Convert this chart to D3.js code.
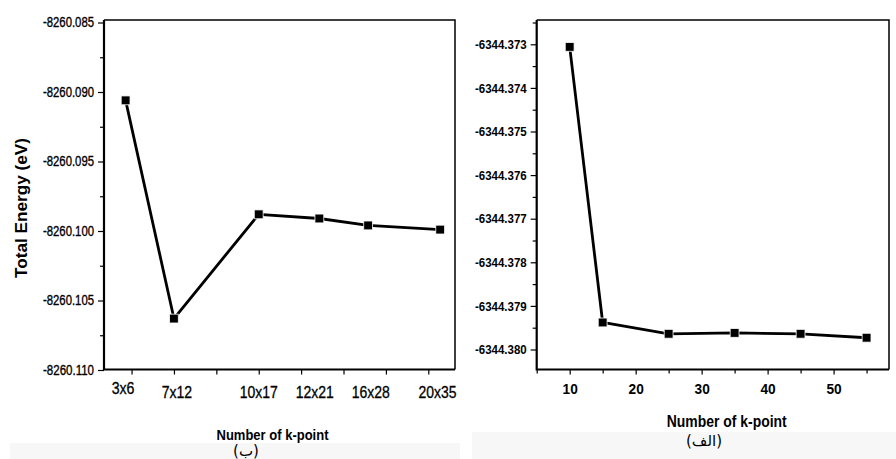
<!DOCTYPE html>
<html>
<head>
<meta charset="utf-8">
<script src="https://cdn.jsdelivr.net/npm/d3@7"></script>
<style>
  html, body { margin: 0; padding: 0; background: #fff; }
  svg { display: block; }
  text { font-family: "Liberation Sans", Arial, sans-serif; fill: #000; }
</style>
</head>
<body>
<svg id="chart" width="896" height="459"></svg>
<script>
// ---- Data: left panel (ب) ----
const leftCategories = ["3x6", "7x12", "10x17", "12x21", "16x28", "20x35"];
const leftPositions = [0.86, 2, 4, 5.43, 6.58, 8.28];
const leftLabelPositions = [0.8, 2.07, 4.0, 5.32, 6.64, 8.22];
const leftEnergy = [-8260.0906, -8260.1063, -8260.0988, -8260.0991, -8260.0996, -8260.0999];
const leftYTicks = [-8260.085, -8260.090, -8260.095, -8260.100, -8260.105, -8260.110];
const leftYMinor = [-8260.0875, -8260.0925, -8260.0975, -8260.1025, -8260.1075];
const leftXTicks = [1, 2, 3, 4, 5, 6, 7, 8];

// ---- Data: right panel (الف) ----
const rightK = [10, 15, 25, 35, 45, 55];
const rightEnergy = [-6344.37306, -6344.37938, -6344.37964, -6344.37962, -6344.37964, -6344.37973];
const rightYTicks = [-6344.373, -6344.374, -6344.375, -6344.376, -6344.377, -6344.378, -6344.379, -6344.380];
const rightYMinor = [-6344.3725, -6344.3735, -6344.3745, -6344.3755, -6344.3765, -6344.3775, -6344.3785, -6344.3795];
const rightXTicks = [10, 20, 30, 40, 50];
const rightXMinor = [5, 15, 25, 35, 45, 55];

// ---- Texts ----
const yTitle = "Total Energy (eV)";
const xTitle = "Number of k-point";
const leftTag = "(ب)";
const rightTag = "(الف)";

const svg = d3.select("#chart");

// light grey background strips (scanned composite)
svg.append("rect").attr("x", 10).attr("y", 443).attr("width", 450).attr("height", 16).attr("fill", "#f7f7f7");
svg.append("rect").attr("x", 472).attr("y", 432).attr("width", 424).attr("height", 27).attr("fill", "#f7f7f7");

// approximate condensed glyph width per character for textLength
function condensed(sel, perChar) {
  sel.each(function () {
    const t = d3.select(this);
    const s = t.text();
    if (s) t.attr("textLength", s.length * perChar).attr("lengthAdjust", "spacingAndGlyphs");
  });
}

function panel(cfg) {
  const g = svg.append("g");
  const x = d3.scaleLinear().domain(cfg.xDomain).range([cfg.left, cfg.right]);
  const y = d3.scaleLinear().domain(cfg.yDomain).range(cfg.yRange);

  // box (top and right)
  g.append("path")
    .attr("d", `M${cfg.left},${cfg.top}H${cfg.right}V${cfg.bottom}`)
    .attr("fill", "none").attr("stroke", "#000").attr("stroke-width", 1.5);

  // Y axis
  const yAxis = g.append("g").attr("transform", `translate(${cfg.left},0)`)
    .call(d3.axisLeft(y).tickValues(cfg.yTicks).tickSize(6).tickPadding(4)
      .tickFormat(d => d.toFixed(3)));
  yAxis.select(".domain").remove();
  yAxis.selectAll(".tick line").attr("stroke-width", 1.2);
  yAxis.selectAll(".tick text")
    .style("font-family", "'Liberation Sans', Arial, sans-serif")
    .style("font-size", cfg.yTickSize + "px")
    .style("font-weight", cfg.yTickWeight)
    .attr("stroke", "#000").attr("stroke-width", cfg.yTickStroke)
    .call(condensed, cfg.yTickChar);
  const yMinor = g.append("g").attr("transform", `translate(${cfg.left},0)`)
    .call(d3.axisLeft(y).tickValues(cfg.yMinor).tickSize(4).tickFormat(""));
  yMinor.select(".domain").remove();
  yMinor.selectAll(".tick line").attr("stroke-width", 1.2);

  // X axis
  const xAxis = g.append("g").attr("transform", `translate(0,${cfg.bottom})`)
    .call(d3.axisBottom(x).tickValues(cfg.xTicks).tickSize(5).tickPadding(9)
      .tickFormat(cfg.xTickFormat));
  xAxis.select(".domain").remove();
  xAxis.selectAll(".tick line").attr("stroke-width", 1.2);
  xAxis.selectAll(".tick text")
    .style("font-family", "'Liberation Sans', Arial, sans-serif")
    .style("font-size", "15px")
    .style("font-weight", "bold")
    .call(condensed, 7.6);
  if (cfg.xMinor) {
    const xm = g.append("g").attr("transform", `translate(0,${cfg.bottom})`)
      .call(d3.axisBottom(x).tickValues(cfg.xMinor).tickSize(4).tickFormat(""));
    xm.select(".domain").remove();
    xm.selectAll(".tick line").attr("stroke-width", 1.2);
  }

  // left + bottom axis lines (thicker)
  g.append("path")
    .attr("d", `M${cfg.left},${cfg.top}V${cfg.bottom}H${cfg.right}`)
    .attr("fill", "none").attr("stroke", "#000").attr("stroke-width", 2.2);

  // data line
  const pts = cfg.xs.map((v, i) => [x(v), y(cfg.ys[i])]);
  g.append("path")
    .attr("d", d3.line()(pts))
    .attr("fill", "none").attr("stroke", "#000").attr("stroke-width", 2.8)
    .attr("stroke-linejoin", "round");
  g.selectAll("path.mk").data(pts).join("path")
    .attr("class", "mk")
    .attr("transform", d => `translate(${d[0]},${d[1]})`)
    .attr("d", d3.symbol(d3.symbolSquare, 78)())
    .attr("fill", "#000").attr("stroke", "#fff").attr("stroke-width", 0.8);

  return { x, y, g };
}

// Left panel
const L = panel({
  left: 104, right: 455, top: 20, bottom: 369.5,
  xDomain: [0.35, 8.63], yDomain: [-8260.110, -8260.085], yRange: [370, 22.5],
  yTicks: leftYTicks, yMinor: leftYMinor, xTicks: leftXTicks, xTickFormat: () => "",
  yTickSize: 14, yTickWeight: "normal", yTickChar: 5.67, yTickStroke: 0.35,
  xs: leftPositions, ys: leftEnergy
});
// category labels for left panel
L.g.selectAll("text.cat").data(leftCategories).join("text")
  .attr("class", "cat")
  .attr("x", (d, i) => L.x(leftLabelPositions[i]))
  .attr("y", (d, i) => i === 0 ? 394 : 398)
  .attr("text-anchor", "middle")
  .style("font-size", "16px")
  .attr("stroke", "#000").attr("stroke-width", 0.3)
  .text(d => d)
  .call(condensed, 7.6);

// Right panel
const R = panel({
  left: 536.7, right: 889, top: 20, bottom: 369.5,
  xDomain: [5, 58.4], yDomain: [-6344.380, -6344.373], yRange: [349.5, 44.3],
  yTicks: rightYTicks, yMinor: rightYMinor, xTicks: rightXTicks, xMinor: rightXMinor,
  xTickFormat: d => d,
  yTickSize: 13, yTickWeight: "bold", yTickChar: 5.75, yTickStroke: 0,
  xs: rightK, ys: rightEnergy
});

// Titles
svg.append("text")
  .attr("transform", "translate(27,208) rotate(-90)")
  .attr("text-anchor", "middle")
  .style("font-size", "16px").style("font-weight", "bold")
  .attr("textLength", 140).attr("lengthAdjust", "spacingAndGlyphs")
  .text(yTitle);

svg.append("text")
  .attr("x", 272.5).attr("y", 439.5).attr("text-anchor", "middle")
  .style("font-size", "15.5px").style("font-weight", "bold")
  .attr("textLength", 112).attr("lengthAdjust", "spacingAndGlyphs")
  .text(xTitle);
svg.append("text")
  .attr("x", 246).attr("y", 456).attr("text-anchor", "middle")
  .style("font-family", "'DejaVu Sans', sans-serif")
  .style("font-size", "15px")
  .text(leftTag);

svg.append("text")
  .attr("x", 726.7).attr("y", 426.5).attr("text-anchor", "middle")
  .style("font-size", "16px").style("font-weight", "bold")
  .attr("textLength", 120).attr("lengthAdjust", "spacingAndGlyphs")
  .text(xTitle);
svg.append("text")
  .attr("x", 704).attr("y", 446).attr("text-anchor", "middle")
  .style("font-family", "'DejaVu Sans', sans-serif")
  .style("font-size", "15px")
  .text(rightTag);
</script>
</body>
</html>
